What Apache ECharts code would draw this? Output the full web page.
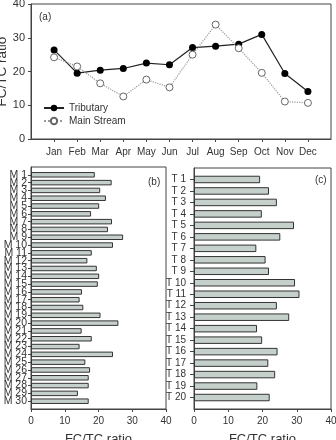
<!DOCTYPE html>
<html>
<head>
<meta charset="utf-8">
<script src="https://cdn.jsdelivr.net/npm/echarts@6/dist/echarts.min.js"></script>
<style>
html,body{margin:0;padding:0;background:#fff;}
#c{width:336px;height:440px;}
</style>
</head>
<body>
<div id="c"></div>
<script>
const months = ['Jan','Feb','Mar','Apr','May','Jun','Jul','Aug','Sep','Oct','Nov','Dec'];
const tributary = [26.4, 19.5, 20.4, 20.9, 22.5, 22.0, 27.1, 27.5, 28.1, 31.0, 19.4, 14.1];
const mainStream = [24.2, 21.5, 16.5, 12.6, 17.6, 15.3, 25.0, 33.9, 26.9, 19.6, 11.1, 10.7];

const mSites = ['M 1','M 2','M 3','M 4','M 5','M 6','M 7','M 8','M 9','M 10','M 11','M 12','M 13','M 14','M 15','M 16','M 17','M 18','M 19','M 20','M 21','M 22','M 23','M 24','M 25','M 26','M 27','M 28','M 29','M 30'];
const mValues = [18.9, 23.9, 20.5, 22.2, 20.2, 17.8, 24.0, 22.8, 27.3, 24.3, 18.0, 16.7, 19.5, 20.2, 19.8, 15.1, 14.4, 15.5, 20.6, 25.9, 15.0, 18.0, 14.4, 24.3, 16.1, 17.5, 17.1, 17.1, 13.9, 17.1];

const tSites = ['T 1','T 2','T 3','T 4','T 5','T 6','T 7','T 8','T 9','T 10','T 11','T 12','T 13','T 14','T 15','T 16','T 17','T 18','T 19','T 20'];
const tValues = [19.3, 21.9, 24.2, 19.8, 29.2, 25.2, 18.2, 20.9, 21.9, 29.5, 30.8, 24.2, 27.8, 18.4, 19.9, 24.4, 21.7, 23.7, 18.5, 22.1];

const ratioTicks = [0, 10, 20, 30, 40];

const FONT = "'Liberation Sans Narrow', 'Arial Narrow', 'Liberation Sans', Arial, sans-serif";
const FONT_WIDE = "'Liberation Sans', Arial, sans-serif";
const AX = '#444';
const TXT = '#333';
const FS = 10;

function pad(arr, v) { return [v].concat(arr, [v]); }
const inner = (n) => (i) => i > 0 && i < n - 1;

const monthCats = pad(months, '');
const mCats = pad(mSites, '');
const tCats = pad(tSites, '');

const barFill = '#c5d0cb';

const chart = echarts.init(document.getElementById('c'), null, {renderer: 'canvas'});
chart.setOption({
  animation: false,
  backgroundColor: '#fff',
  textStyle: {fontFamily: FONT},
  grid: [
    {left: 31, top: 4, width: 300, height: 135, show: true, borderColor: AX, borderWidth: 1, containLabel: false, outerBoundsMode: 'none'},
    {left: 31, top: 167, width: 135, height: 242, show: true, borderColor: AX, borderWidth: 1, containLabel: false, outerBoundsMode: 'none'},
    {left: 194, top: 168, width: 137, height: 241, show: true, borderColor: AX, borderWidth: 1, containLabel: false, outerBoundsMode: 'none'}
  ],
  xAxis: [
    {gridIndex: 0, type: 'category', data: monthCats, boundaryGap: false,
     axisLine: {lineStyle: {color: AX}},
     axisTick: {interval: inner(monthCats.length), length: 3, lineStyle: {color: AX}},
     axisLabel: {interval: 0, margin: 8, fontSize: FS, color: TXT, fontFamily: FONT},
     splitLine: {show: false}},
    {gridIndex: 1, type: 'value', min: 0, max: 40, interval: 10,
     axisLine: {show: true, lineStyle: {color: AX}},
     axisTick: {show: true, length: 3, lineStyle: {color: AX}},
     axisLabel: {margin: 7, fontSize: FS, color: TXT, fontFamily: FONT},
     splitLine: {show: false},
     name: 'FC/TC ratio', nameLocation: 'middle', nameGap: 24, nameMoveOverlap: false,
     nameTextStyle: {fontSize: 13, color: TXT, fontFamily: FONT}},
    {gridIndex: 2, type: 'value', min: 0, max: 40, interval: 10,
     axisLine: {show: true, lineStyle: {color: AX}},
     axisTick: {show: true, length: 3, lineStyle: {color: AX}},
     axisLabel: {margin: 7, fontSize: FS, color: TXT, fontFamily: FONT},
     splitLine: {show: false},
     name: 'FC/TC ratio', nameLocation: 'middle', nameGap: 24, nameMoveOverlap: false,
     nameTextStyle: {fontSize: 13, color: TXT, fontFamily: FONT}}
  ],
  yAxis: [
    {gridIndex: 0, type: 'value', min: ratioTicks[0], max: ratioTicks[ratioTicks.length-1], interval: 10,
     axisLine: {show: true, lineStyle: {color: AX}},
     axisTick: {show: true, length: 3, lineStyle: {color: AX}},
     axisLabel: {margin: 6, fontSize: FS + 1, color: TXT, fontFamily: FONT},
     splitLine: {show: false},
     name: 'FC/TC ratio', nameLocation: 'middle', nameGap: 22, nameMoveOverlap: false,
     nameTextStyle: {fontSize: 13.5, color: TXT, fontFamily: FONT_WIDE}},
    {gridIndex: 1, type: 'category', data: mCats, inverse: true, boundaryGap: false,
     axisLine: {lineStyle: {color: AX}},
     axisTick: {interval: inner(mCats.length), length: 3, lineStyle: {color: AX}},
     axisLabel: {interval: 0, margin: 4, fontSize: FS + 0.5, lineHeight: 8, color: TXT, fontFamily: FONT, hideOverlap: false},
     splitLine: {show: false}},
    {gridIndex: 2, type: 'category', data: tCats, inverse: true, boundaryGap: false,
     axisLine: {lineStyle: {color: AX}},
     axisTick: {interval: inner(tCats.length), length: 4, lineStyle: {color: AX}},
     axisLabel: {interval: 0, margin: 8, fontSize: FS, color: TXT, fontFamily: FONT, hideOverlap: false},
     splitLine: {show: false}}
  ],
  legend: {
    orient: 'vertical', left: 43, top: 103, itemWidth: 20, itemHeight: 8, itemGap: 3, padding: 0,
    textStyle: {fontSize: FS, color: TXT, fontFamily: FONT},
    data: ['Tributary', 'Main Stream']
  },
  series: [
    {name: 'Tributary', type: 'line', xAxisIndex: 0, yAxisIndex: 0,
     data: pad(tributary, null),
     symbol: 'circle', symbolSize: 7,
     lineStyle: {color: '#222', width: 1.2},
     itemStyle: {color: '#000', borderColor: '#000', borderWidth: 0}},
    {name: 'Main Stream', type: 'line', xAxisIndex: 0, yAxisIndex: 0,
     data: pad(mainStream, null),
     symbol: 'circle', symbolSize: 7,
     lineStyle: {color: '#999', width: 1.2, type: 'dotted'},
     itemStyle: {color: '#fff', borderColor: '#666', borderWidth: 1}},
    {type: 'bar', xAxisIndex: 1, yAxisIndex: 1, data: pad(mValues, '-'),
     barWidth: 5.5,
     itemStyle: {color: barFill, borderColor: '#333', borderWidth: 1}},
    {type: 'bar', xAxisIndex: 2, yAxisIndex: 2, data: pad(tValues, '-'),
     barWidth: 7.5,
     itemStyle: {color: barFill, borderColor: '#333', borderWidth: 1}}
  ],
  graphic: [
    {type: 'text', left: 39, top: 12, style: {text: '(a)', fontSize: FS, fill: TXT, fontFamily: FONT}},
    {type: 'text', left: 148, top: 177, style: {text: '(b)', fontSize: FS, fill: TXT, fontFamily: FONT}},
    {type: 'text', left: 315, top: 175, style: {text: '(c)', fontSize: FS, fill: TXT, fontFamily: FONT}}
  ]
});
</script>
</body>
</html>
